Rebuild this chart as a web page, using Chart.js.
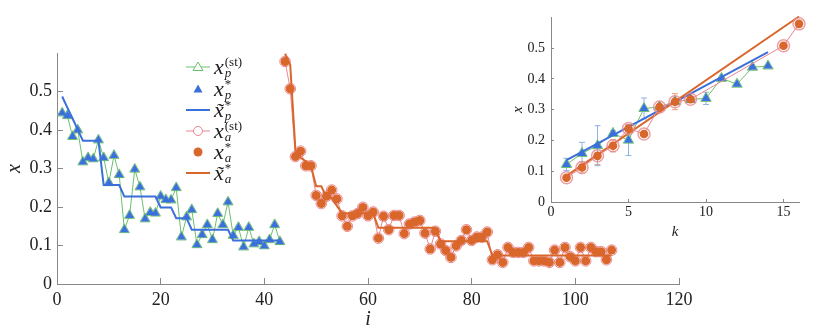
<!DOCTYPE html>
<html>
<head>
<meta charset="utf-8">
<script src="https://cdn.jsdelivr.net/npm/chart.js@4.4.1/dist/chart.umd.min.js"></script>
<style>
    body { margin: 0; background: #fff; }
    #wrap { position: relative; width: 830px; height: 334px; }
    #mainChart { position: absolute; left: 0; top: 0; }
    #insetChart { position: absolute; left: 490px; top: 0; }
    .leg { position: absolute; left: 186px; top: 0; font-family: 'Liberation Serif', serif; color: #222; }
    .row { position: absolute; left: 0; height: 20px; display: flex; align-items: center; white-space: nowrap; }
    .row svg { margin-right: 4px; }
    .mx { font-style: italic; font-size: 22px; line-height: 20px; }
    .ss { display: inline-flex; flex-direction: column; font-size: 13px; line-height: 11px; margin-left: 1px; }
    .ss .up { font-style: normal; }
    .ss .lo { font-style: italic; }
</style>
</head>
<body>
<div id="wrap">
    <canvas id="mainChart" width="830" height="334"></canvas>
    <canvas id="insetChart" width="340" height="250"></canvas>
    <div class="leg" id="leyenda"></div>
</div>
<script>
// main plot: index i vs x
const startP = 1;
const xP = [0.444, 0.437, 0.383, 0.400, 0.317, 0.328, 0.325, 0.374, 0.328, 0.263,
            0.334, 0.284, 0.141, 0.178, 0.298, 0.252, 0.169, 0.186, 0.184, 0.228,
            0.219, 0.218, 0.250, 0.122, 0.174, 0.193, 0.102, 0.128, 0.154, 0.115,
            0.183, 0.154, 0.213, 0.126, 0.147, 0.096, 0.147, 0.104, 0.110, 0.099,
            0.115, 0.154, 0.110];
const xPTilde = [0.487, 0.458, 0.430, 0.401, 0.372, 0.372, 0.372, 0.372, 0.257, 0.257,
                 0.257, 0.257, 0.227, 0.227, 0.227, 0.227, 0.227, 0.227, 0.227, 0.199,
                 0.199, 0.199, 0.171, 0.171, 0.171, 0.141, 0.141, 0.141, 0.141, 0.141,
                 0.141, 0.141, 0.141, 0.113, 0.113, 0.113, 0.113, 0.113, 0.113, 0.113,
                 0.113, 0.113, 0.113];

const startA = 44;
const xA = [0.578, 0.507, 0.331, 0.345, 0.307, 0.307, 0.230, 0.209, 0.228, 0.244,
            0.221, 0.177, 0.150, 0.177, 0.183, 0.199, 0.177, 0.187, 0.119, 0.176,
            0.141, 0.178, 0.178, 0.131, 0.156, 0.161, 0.165, 0.132, 0.091, 0.137,
            0.104, 0.087, 0.069, 0.099, 0.113, 0.141, 0.113, 0.122, 0.122, 0.135,
            0.063, 0.076, 0.056, 0.095, 0.082, 0.082, 0.082, 0.095, 0.060, 0.060,
            0.060, 0.056, 0.088, 0.056, 0.095, 0.071, 0.060, 0.095, 0.060, 0.095,
            0.084, 0.084, 0.063, 0.088];
const xATilde = [0.598, 0.569, 0.348, 0.328, 0.319, 0.306, 0.254, 0.254, 0.224, 0.224,
                 0.203, 0.184, 0.184, 0.184, 0.184, 0.184, 0.184, 0.184, 0.146, 0.146,
                 0.146, 0.146, 0.146, 0.146, 0.146, 0.146, 0.146, 0.146, 0.146, 0.146,
                 0.111, 0.111, 0.111, 0.111, 0.111, 0.111, 0.111, 0.111, 0.111, 0.111,
                 0.074, 0.074, 0.074, 0.074, 0.074, 0.074, 0.074, 0.074, 0.074, 0.074,
                 0.074, 0.074, 0.074, 0.074, 0.074, 0.074, 0.074, 0.074, 0.074, 0.074,
                 0.074, 0.074, 0.074, 0.074];

const mainXTicks = [0, 20, 40, 60, 80, 100, 120];
const mainYTicks = [0, 0.1, 0.2, 0.3, 0.4, 0.5];

// inset: k vs x
const kP = [1, 2, 3, 4, 5, 6, 7, 8, 9, 10, 11, 12, 13, 14];
const insetP = [0.122, 0.158, 0.183, 0.223, 0.201, 0.304, 0.309, 0.326, 0.333, 0.337, 0.402, 0.383, 0.438, 0.442];
const insetPErr = [0.020, 0.036, 0.065, 0.008, 0.050, 0.034, 0, 0, 0, 0.020, 0, 0, 0, 0];
const kA = [1, 2, 3, 4, 5, 6, 7, 8, 9, 15, 16];
const insetA = [0.079, 0.112, 0.150, 0.183, 0.239, 0.221, 0.309, 0.326, 0.334, 0.508, 0.579];
const insetAErr = [0.006, 0.018, 0.028, 0.020, 0.012, 0.008, 0.008, 0.026, 0.008, 0.005, 0.005];
const fitPk = [1, 14];
const fitPv = [0.136, 0.487];
const fitAk = [1, 16];
const fitAv = [0.085, 0.603];

const insetXTicks = [0, 5, 10, 15];
const insetYTicks = [0, 0.1, 0.2, 0.3, 0.4, 0.5];

const VERDE = '#6cbf6c';
const AZUL = '#3a6fdc';
const NARANJA = '#d9662b';
const ROSA = '#e8878e';
const GRIS = '#888';
const SERIF = "'Liberation Serif', 'DejaVu Serif', serif";

const puntos = (xs, ys) => ys.map((v, j) => ({ x: xs[j], y: v }));
const iP = xP.map((_, j) => startP + j);
const iA = xA.map((_, j) => startA + j);

function ejeFormato(v) {
    return v === 0 ? '0' : (Number.isInteger(v) ? String(v) : v.toFixed(1));
}

function escala(ticks, extra) {
    return Object.assign({
        type: 'linear',
        afterBuildTicks: s => { s.ticks = ticks.map(v => ({ value: v })); },
        border: { color: GRIS, width: 1 },
        grid: { drawOnChartArea: false, drawTicks: true, color: GRIS },
        ticks: { color: '#222', maxRotation: 0, callback: ejeFormato }
    }, extra);
}

new Chart(document.getElementById('mainChart'), {
    type: 'line',
    data: {
        datasets: [
            { label: 'xa*', data: puntos(iA, xA), showLine: false, pointStyle: 'circle', pointRadius: 4.5,
              pointBackgroundColor: NARANJA, pointBorderWidth: 0, order: 1 },
            { label: 'xa st', data: puntos(iA, xA), borderColor: ROSA, borderWidth: 1, pointStyle: 'circle',
              pointRadius: 5.3, pointBackgroundColor: 'rgba(0,0,0,0)', pointBorderColor: ROSA, pointBorderWidth: 1, order: 3 },
            { label: 'xa tilde', data: puntos(iA, xATilde), borderColor: NARANJA, borderWidth: 2, pointRadius: 0, order: 2 },
            { label: 'xp*', data: puntos(iP, xP), showLine: false, pointStyle: 'triangle', pointRadius: 5,
              pointBackgroundColor: AZUL, pointBorderWidth: 0, order: 4 },
            { label: 'xp tilde', data: puntos(iP, xPTilde), borderColor: AZUL, borderWidth: 2, pointRadius: 0, order: 5 },
            { label: 'xp st', data: puntos(iP, xP), borderColor: VERDE, borderWidth: 1, pointStyle: 'triangle',
              pointRadius: 5.8, pointBackgroundColor: 'rgba(0,0,0,0)', pointBorderColor: VERDE, pointBorderWidth: 1, order: 6 }
        ]
    },
    options: {
        responsive: false,
        animation: false,
        datasets: { line: { clip: false } },
        layout: { padding: { top: 53, right: 151, left: 0, bottom: 0 } },
        plugins: { legend: { display: false }, tooltip: { enabled: false } },
        scales: {
            x: escala(mainXTicks, {
                min: 0, max: 120,
                afterFit: s => { s.height = 50; },
                grid: { drawOnChartArea: false, color: GRIS, tickLength: -6 },
                ticks: { color: '#222', maxRotation: 0, padding: 11, font: { family: SERIF, size: 18 }, callback: ejeFormato },
                title: { display: true, text: 'i', color: '#222', padding: { top: 0, bottom: 2 },
                         font: { family: SERIF, size: 20, style: 'italic' } }
            }),
            y: escala(mainYTicks, {
                min: 0, max: 0.6,
                afterFit: s => { s.width = 57; },
                grid: { drawOnChartArea: false, color: GRIS, tickLength: -6 },
                ticks: { color: '#222', padding: 11, font: { family: SERIF, size: 18 }, callback: ejeFormato },
                title: { display: true, text: 'x', color: '#222', padding: { top: 3, bottom: 0 },
                         font: { family: SERIF, size: 20, style: 'italic' } }
            })
        }
    }
});

const barrasError = {
    id: 'barrasError',
    beforeDatasetsDraw(chart) {
        const { ctx, scales: { x, y } } = chart;
        chart.data.datasets.forEach(ds => {
            if (!ds.errores) return;
            ctx.save();
            ctx.strokeStyle = ds.colorError;
            ctx.lineWidth = 1;
            ds.data.forEach((p, j) => {
                const e = ds.errores[j];
                if (!e) return;
                const px = x.getPixelForValue(p.x);
                const arriba = y.getPixelForValue(p.y + e);
                const abajo = y.getPixelForValue(p.y - e);
                ctx.beginPath();
                ctx.moveTo(px, arriba); ctx.lineTo(px, abajo);
                ctx.moveTo(px - 3, arriba); ctx.lineTo(px + 3, arriba);
                ctx.moveTo(px - 3, abajo); ctx.lineTo(px + 3, abajo);
                ctx.stroke();
            });
            ctx.restore();
        });
    }
};

new Chart(document.getElementById('insetChart'), {
    type: 'line',
    data: {
        datasets: [
            { label: 'xa*', data: puntos(kA, insetA), showLine: false, pointStyle: 'circle', pointRadius: 4.3,
              pointBackgroundColor: NARANJA, pointBorderWidth: 0, order: 1 },
            { label: 'xa st', data: puntos(kA, insetA), borderColor: ROSA, borderWidth: 1, pointStyle: 'circle',
              pointRadius: 6, pointBackgroundColor: 'rgba(0,0,0,0)', pointBorderColor: 'rgba(232,135,142,0.8)', pointBorderWidth: 1.5,
              errores: insetAErr, colorError: '#eca27c', order: 2 },
            { label: 'fit a', data: puntos(fitAk, fitAv), borderColor: NARANJA, borderWidth: 2, pointRadius: 0, order: 3 },
            { label: 'fit p', data: puntos(fitPk, fitPv), borderColor: AZUL, borderWidth: 2, pointRadius: 0, order: 4 },
            { label: 'xp*', data: puntos(kP, insetP), showLine: false, pointStyle: 'triangle', pointRadius: 5.2,
              pointBackgroundColor: AZUL, pointBorderWidth: 0, order: 5 },
            { label: 'xp st', data: puntos(kP, insetP), borderColor: VERDE, borderWidth: 1, pointStyle: 'triangle',
              pointRadius: 6, pointBackgroundColor: 'rgba(0,0,0,0)', pointBorderColor: VERDE, pointBorderWidth: 1,
              errores: insetPErr, colorError: '#8fb0e8', order: 6 }
        ]
    },
    options: {
        responsive: false,
        animation: false,
        datasets: { line: { clip: false } },
        layout: { padding: { top: 17, right: 31, left: 0, bottom: 0 } },
        plugins: { legend: { display: false }, tooltip: { enabled: false } },
        scales: {
            x: escala(insetXTicks, {
                min: 0, max: 16,
                afterFit: s => { s.height = 48; },
                grid: { drawOnChartArea: false, color: GRIS, tickLength: -3 },
                ticks: { color: '#222', maxRotation: 0, padding: 5, font: { family: SERIF, size: 14 }, callback: ejeFormato },
                title: { display: true, text: 'k', color: '#222', padding: { top: 0, bottom: 9 },
                         font: { family: SERIF, size: 15, style: 'italic' } }
            }),
            y: escala(insetYTicks, {
                min: 0, max: 0.6,
                afterFit: s => { s.width = 61; },
                grid: { drawOnChartArea: false, color: GRIS, tickLength: -3 },
                ticks: { color: '#222', padding: 9, font: { family: SERIF, size: 14 }, callback: ejeFormato },
                title: { display: true, text: 'x', color: '#222', padding: { top: 19, bottom: 0 },
                         font: { family: SERIF, size: 15, style: 'italic' } }
            })
        }
    },
    plugins: [barrasError]
});

// legend as html so the sub/superscripts stay real text
const filasLeyenda = [
    { y: 67, linea: VERDE, marca: 'tri-hueco', tilde: false, arriba: '(st)', abajo: 'p' },
    { y: 89, linea: null, marca: 'tri-lleno', tilde: false, arriba: '*', abajo: 'p' },
    { y: 110, linea: AZUL, marca: null, tilde: true, arriba: '*', abajo: 'p' },
    { y: 131, linea: ROSA, marca: 'circ-hueco', tilde: false, arriba: '(st)', abajo: 'a' },
    { y: 152, linea: null, marca: 'circ-lleno', tilde: false, arriba: '*', abajo: 'a' },
    { y: 173, linea: NARANJA, marca: null, tilde: true, arriba: '*', abajo: 'a' }
];

function simbolo(f) {
    let s = '<svg width="24" height="14" viewBox="0 0 24 14">';
    if (f.linea) s += `<line x1="0" y1="7" x2="24" y2="7" stroke="${f.linea}" stroke-width="${f.marca ? 1 : 2}"/>`;
    if (f.marca === 'tri-hueco') s += `<polygon points="12,2 17,10.5 7,10.5" fill="#fff" stroke="${VERDE}" stroke-width="1"/>`;
    if (f.marca === 'tri-lleno') s += `<polygon points="12,2.5 16.5,10.5 7.5,10.5" fill="${AZUL}"/>`;
    if (f.marca === 'circ-hueco') s += `<circle cx="12" cy="7" r="4.5" fill="#fff" stroke="${ROSA}" stroke-width="1"/>`;
    if (f.marca === 'circ-lleno') s += `<circle cx="12" cy="7" r="4.5" fill="${NARANJA}"/>`;
    return s + '</svg>';
}

const leyenda = document.getElementById('leyenda');
filasLeyenda.forEach(f => {
    const fila = document.createElement('div');
    fila.className = 'row';
    fila.style.top = (f.y - 10) + 'px';
    fila.innerHTML = simbolo(f) +
        `<span class="mx">${f.tilde ? 'x\u0303' : 'x'}</span>` +
        `<span class="ss"><span class="up">${f.arriba}</span><span class="lo">${f.abajo}</span></span>`;
    leyenda.appendChild(fila);
});
</script>
</body>
</html>
